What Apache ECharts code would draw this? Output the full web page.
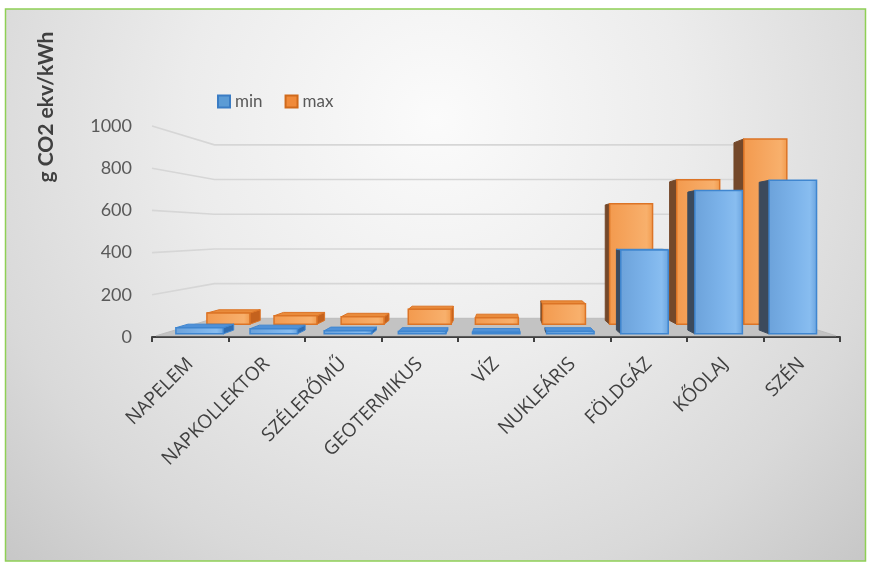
<!DOCTYPE html>
<html><head><meta charset="utf-8">
<script src="https://cdn.jsdelivr.net/npm/echarts@6/dist/echarts.min.js"></script>
<style>html,body{margin:0;padding:0;background:#fff}#c{width:869px;height:563px}</style>
</head><body><div id="c"></div>
<script>
const categories = ['NAPELEM','NAPKOLLEKTOR','SZÉLERŐMŰ','GEOTERMIKUS','VÍZ','NUKLEÁRIS','FÖLDGÁZ','KŐOLAJ','SZÉN'];
const minValues = [30, 25, 15, 12, 8, 12, 410, 700, 750];
const maxValues = [60, 45, 40, 80, 35, 110, 650, 780, 1000];
const yTicks = [0, 200, 400, 600, 800, 1000];
const yAxisTitle = 'g CO2 ekv/kWh';

// perspective view parameters (styling only)
const VP = [503, 232];
const FLOOR_DEPTH = 0.178;
const DEPTH = { min: [0.03, 0.066], max: [0.122, 0.158] };
const BAR_FRAC = 0.64;

const COLORS = {
  min: { front: ['#6ca2da', '#7cb3ea', '#88bdf0', '#6aa3de'], stroke: '#3f86d0', top: '#4f91d8', left: '#3c4a5c', right: '#2f6cb0' },
  max: { front: ['#f39a4e', '#f6a862', '#f8b06c', '#f19a4c'], stroke: '#dc7426', top: '#e98b3b', left: '#74482a', right: '#c4621e' }
};

function proj(p, k) { return [p[0] + (VP[0] - p[0]) * k, p[1] + (VP[1] - p[1]) * k]; }

function barRender(name) {
  const col = COLORS[name];
  return function (params, api) {
    const i = api.value(0), v = api.value(1);
    const c = api.coord([i, v]);
    const c0 = api.coord([i, 0]);
    const w = api.size([1, 0])[0] * BAR_FRAC;
    const xl = c[0] - w / 2, xr = c[0] + w / 2;
    const kf = DEPTH[name][0], kb = DEPTH[name][1];
    const FBL = proj([xl, c0[1]], kf), FBR = proj([xr, c0[1]], kf);
    const FTL = proj([xl, c[1]], kf), FTR = proj([xr, c[1]], kf);
    const BBL = proj([xl, c0[1]], kb), BBR = proj([xr, c0[1]], kb);
    const BTL = proj([xl, c[1]], kb), BTR = proj([xr, c[1]], kb);
    const children = [];
    if (FBL[0] > VP[0]) {
      children.push({ type: 'polygon', shape: { points: [FBL, BBL, BTL, FTL] }, style: { fill: col.left, stroke: col.left, lineWidth: 1 } });
    }
    if (FBR[0] < VP[0]) {
      children.push({ type: 'polygon', shape: { points: [FBR, BBR, BTR, FTR] }, style: { fill: col.right, stroke: col.stroke, lineWidth: 1 } });
    }
    if (FTL[1] > VP[1]) {
      children.push({ type: 'polygon', shape: { points: [FTL, FTR, BTR, BTL] }, style: { fill: col.top, stroke: col.stroke, lineWidth: 1 } });
    }
    children.push({
      type: 'polygon', shape: { points: [FTL, FTR, FBR, FBL] },
      style: {
        fill: new echarts.graphic.LinearGradient(0, 0, 1, 0, [
          { offset: 0, color: col.front[0] }, { offset: 0.55, color: col.front[1] },
          { offset: 0.85, color: col.front[2] }, { offset: 1, color: col.front[3] }]),
        stroke: col.stroke, lineWidth: 1.5
      }
    });
    return { type: 'group', children: children };
  };
}

function wallRender(params, api) {
  const v = api.value(1);
  const cs = params.coordSys;
  const y = api.coord([0, v])[1];
  const gl = cs.x, gr = cs.x + cs.width;
  const children = [];
  if (v === 0) {
    children.push({ type: 'polygon', shape: { points: [proj([gl, y], 0.012), proj([gr, y], 0.012), proj([gr, y], FLOOR_DEPTH), proj([gl, y], FLOOR_DEPTH)] },
      style: { fill: '#c3c3c3', stroke: '#bdbdbd', lineWidth: 1 } });
  } else {
    children.push({ type: 'polyline', shape: { points: [[gl, y], proj([gl, y], FLOOR_DEPTH), proj([gr, y], FLOOR_DEPTH)] },
      style: { stroke: '#d6d6d6', lineWidth: 1.6, fill: null } });
  }
  return { type: 'group', children: children };
}

const chart = echarts.init(document.getElementById('c'), null, { renderer: 'canvas' });
const option = {
  animation: false,
  backgroundColor: '#ffffff',
  graphic: [
    { type: 'rect', z: -100, silent: true, shape: { x: 5.5, y: 9, width: 860, height: 552 },
      style: { fill: new echarts.graphic.RadialGradient(0.5, 0.2, 1.13, [
        { offset: 0, color: '#fbfbfb' }, { offset: 0.4, color: '#ececec' },
        { offset: 0.75, color: '#d9d9d9' }, { offset: 1, color: '#c6c6c6' }]),
        stroke: '#8fcf55', lineWidth: 1.5 } },
    { type: 'text', z: 10, x: 46, y: 107, rotation: Math.PI / 2,
      style: { text: yAxisTitle, font: 'bold 21px Lato', fill: '#404040', align: 'center', verticalAlign: 'middle' } }
  ],
  legend: {
    data: ['min', 'max'], left: 212, top: 88, itemWidth: 12, itemHeight: 12, itemGap: 22, icon: 'rect',
    textStyle: { fontFamily: 'Lato', fontSize: 17, color: '#595959' }
  },
  grid: { left: 152, right: 29, top: 126, bottom: 226 },
  xAxis: {
    type: 'category', data: categories, boundaryGap: true,
    axisLine: { lineStyle: { color: '#404040', width: 2 } },
    axisTick: { show: true, length: 5, lineStyle: { color: '#404040', width: 2 } },
    axisLabel: { rotate: 45, interval: 0, margin: 24, fontFamily: 'Open Sans', fontSize: 19, color: '#404040' },
    splitLine: { show: false }
  },
  yAxis: {
    type: 'value', min: 0, max: 1000, interval: 200,
    axisLine: { show: false }, axisTick: { show: false }, splitLine: { show: false },
    axisLabel: { margin: 20, fontFamily: 'Lato', fontSize: 18, color: '#595959', formatter: v => String(v) }
  },
  series: [
    { type: 'custom', name: 'walls', z: 1, silent: true, renderItem: wallRender,
      data: yTicks.map(t => [0, t]), encode: { x: 0, y: 1 } },
    { type: 'custom', name: 'max', z: 2, renderItem: barRender('max'),
      itemStyle: { color: '#f08a3a', borderColor: '#d06a1c', borderWidth: 1 },
      data: maxValues.map((v, i) => [i, v]), encode: { x: 0, y: 1 } },
    { type: 'custom', name: 'min', z: 3, renderItem: barRender('min'),
      itemStyle: { color: '#5b9bd5', borderColor: '#3a7cc4', borderWidth: 1 },
      data: minValues.map((v, i) => [i, v]), encode: { x: 0, y: 1 } }
  ]
};
chart.setOption(option);
</script>
</body></html>
